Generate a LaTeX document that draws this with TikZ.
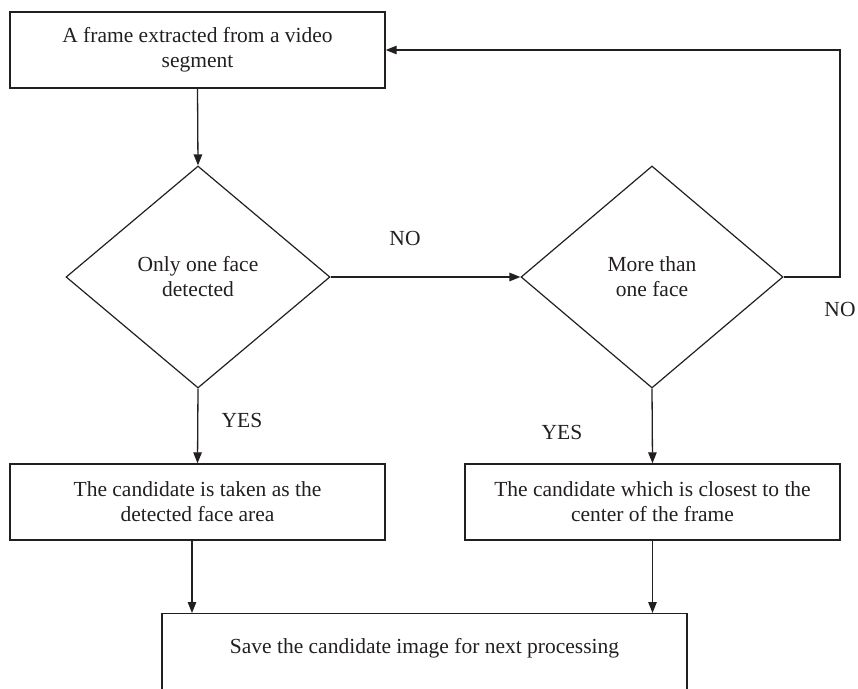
\documentclass[tikz,border=0pt]{standalone}
\usepackage{fontspec}
\setmainfont{Liberation Serif}
\usetikzlibrary{shapes.geometric,arrows.meta}
\definecolor{ink}{HTML}{231F20}
\begin{document}
\begin{tikzpicture}[x=1pt,y=-1pt,
  font=\fontsize{21.5}{25}\selectfont,
  every node/.style={text=ink},
  procbox/.style={draw=ink,line width=1.4pt,rectangle,inner sep=0pt,
    minimum width=375pt,minimum height=76pt,align=center},
  decision/.style={draw=ink,line width=1.2pt,diamond,inner sep=0pt,
    align=center},
  flow/.style={draw=ink,line width=1.3pt,-{Triangle[length=11pt,width=8.5pt]}},
  lbl/.style={inner sep=0pt}]
\useasboundingbox (0,0) rectangle (858,688);

% process boxes
\node[procbox] (frame) at (197.5,50) {A frame extracted from a video\\segment};
\node[procbox] (single) at (197.5,502) {The candidate is taken as the\\detected face area};
\node[procbox] (closest) at (652.5,502) {The candidate which is closest to the\\center of the frame};
\node[draw=ink,line width=1.4pt,rectangle,anchor=north,inner xsep=0pt,inner ysep=0pt,
  minimum width=525pt,text height=40pt,text depth=50pt] (save) at (424.5,613)
  {Save the candidate image for next processing};

% decisions
\node[decision,minimum width=264pt,minimum height=222pt] (one) at (198,277)
  {Only one face\\detected};
\node[decision,minimum width=262pt,minimum height=222pt] (many) at (652,277)
  {More than\\one face};

% connectors
\draw[flow] (frame.south) -- (one.north);
\draw[flow] (one.east) -- (many.west);
\coordinate (loopA) at (840,277);
\coordinate (loopB) at (840,50);
\draw[flow] (many.east) -- (loopA) -- (loopB) -- (frame.east);
\draw[flow] (one.south) -- (single.north);
\draw[flow] (many.south) -- (closest.north);
\draw[flow] (single.south -| 192,0) -- (192,613);
\draw[flow] (closest.south) -- (closest.south |- save.north);

% branch labels
\node[lbl] (no1) at (405,238) {NO};
\node[lbl] (no2) at (840,309) {NO};
\node[lbl] (yes1) at (242,420) {YES};
\node[lbl] (yes2) at (562,432) {YES};
\end{tikzpicture}
\end{document}
